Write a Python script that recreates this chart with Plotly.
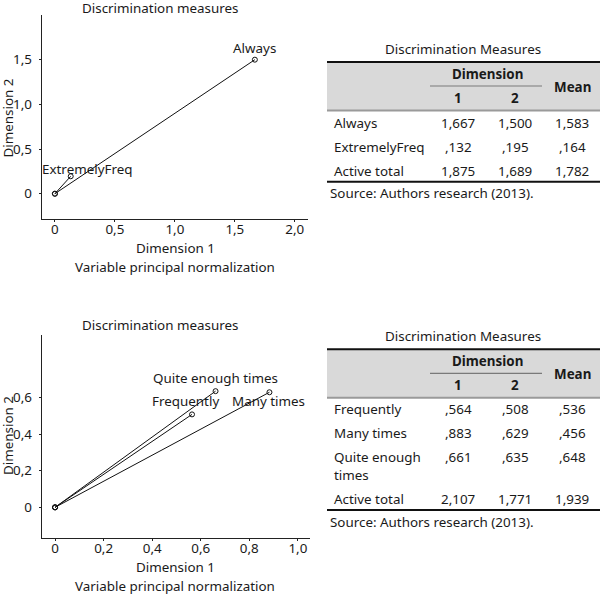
import plotly.graph_objects as go

# ---------------- data ----------------
top_cats = ["Always", "ExtremelyFreq"]
top_dim1 = [1.667, 0.132]
top_dim2 = [1.500, 0.195]
top_mean = [1.583, 0.164]
top_total = [1.875, 1.689, 1.782]

bot_cats = ["Frequently", "Many times", "Quite enough times"]
bot_dim1 = [0.564, 0.883, 0.661]
bot_dim2 = [0.508, 0.629, 0.635]
bot_mean = [0.536, 0.456, 0.648]
bot_total = [2.107, 1.771, 1.939]

top_xticks = [0, 0.5, 1.0, 1.5, 2.0]
top_xtext = ["0", "0,5", "1,0", "1,5", "2,0"]
top_yticks = [0, 0.5, 1.0, 1.5]
top_ytext = ["0", "0,5", "1,0", "1,5"]
bot_xticks = [0, 0.2, 0.4, 0.6, 0.8, 1.0]
bot_xtext = ["0", "0,2", "0,4", "0,6", "0,8", "1,0"]
bot_yticks = [0, 0.2, 0.4, 0.6]
bot_ytext = ["0", "0,2", "0,4", "0,6"]

chart_title = "Discrimination measures"
table_title = "Discrimination Measures"
x_title = "Dimension 1"
y_title = "Dimension 2"
subtitle = "Variable principal normalization"
source = "Source: Authors research (2013)."

# ---------------- style ----------------
W, H = 600, 595
FONT = "Noto Sans"
FS = 13.4
TXT = "#1a1a1a"

def px(x):
    return x / W

def py(y):
    return 1 - y / H

def fmt(v):
    s = f"{v:.3f}".replace(".", ",")
    if s.startswith("0,"):
        s = s[1:]
    return s

fig = go.Figure()

# label offsets (pixels) per point
top_shift = {"Always": (0, 12), "ExtremelyFreq": (17, 7)}
bot_shift = {"Frequently": (-7, 13), "Many times": (-1, -9), "Quite enough times": (0, 13)}

def add_vectors(cats, d1, d2, xa, ya, shifts):
    for c, a, b in zip(cats, d1, d2):
        fig.add_trace(go.Scatter(
            x=[0, a], y=[0, b], mode="lines+markers", xaxis=xa, yaxis=ya,
            line=dict(color="#111111", width=1),
            marker=dict(symbol="circle-open", size=5, color="#111111", line=dict(width=1)),
            showlegend=False, hoverinfo="skip"))
        sx, sy = shifts[c]
        fig.add_annotation(x=a, y=b, xref=xa, yref=ya, text=c, showarrow=False,
                           xshift=sx, yshift=sy, font=dict(family=FONT, size=FS, color=TXT))

add_vectors(top_cats, top_dim1, top_dim2, "x", "y", top_shift)
add_vectors(bot_cats, bot_dim1, bot_dim2, "x2", "y2", bot_shift)

axis_common = dict(showline=True, linecolor="#222222", linewidth=1, showgrid=False,
                   zeroline=False, ticks="outside", ticklen=2, tickcolor="#222222",
                   tickfont=dict(family=FONT, size=FS, color=TXT))
xa_extra = dict(ticklabelstandoff=-4)
ya_extra = dict(ticklabelstandoff=4)

fig.update_layout(
    width=W, height=H, margin=dict(l=0, r=0, t=0, b=0),
    paper_bgcolor="white", plot_bgcolor="white",
    font=dict(family=FONT, size=FS, color=TXT),
    xaxis=dict(domain=[px(41.7), px(308)], range=[-0.11, 2.11], anchor="y",
               tickvals=top_xticks, ticktext=top_xtext, **axis_common, **xa_extra),
    yaxis=dict(domain=[py(219), py(15)], range=[-0.283, 2.0], anchor="x",
               tickvals=top_yticks, ticktext=top_ytext, **axis_common, **ya_extra),
    xaxis2=dict(domain=[px(41.7), px(310)], range=[-0.055, 1.05], anchor="y2",
                tickvals=bot_xticks, ticktext=bot_xtext, **axis_common, **xa_extra),
    yaxis2=dict(domain=[py(537.7), py(335)], range=[-0.166, 0.942], anchor="x2",
                tickvals=bot_yticks, ticktext=bot_ytext, **axis_common, **ya_extra),
)

def text(x, y, s, xanchor="center", bold=False, size=FS):
    fig.add_annotation(x=px(x), y=py(y), xref="paper", yref="paper", text=(f"<b>{s}</b>" if bold else s),
                       showarrow=False, xanchor=xanchor, yanchor="middle",
                       font=dict(family=FONT, size=size, color=TXT))

def hline(x0, x1, y, color, width):
    fig.add_shape(type="line", xref="paper", yref="paper", x0=px(x0), x1=px(x1),
                  y0=py(y), y1=py(y), line=dict(color=color, width=width))

# chart titles
for (tx, ty_title, ty_x, ty_sub, ty_y) in [
        (160, 8, 248, 267, 118.5), (160, 325, 567, 586, 436)]:
    text(tx, ty_title, chart_title)
    text(tx + 15, ty_x, x_title)
    text(tx + 15, ty_sub, subtitle)
    fig.add_annotation(x=px(8), y=py(ty_y), xref="paper", yref="paper",
                       text=y_title, textangle=-90, showarrow=False,
                       xanchor="center", yanchor="middle",
                       font=dict(family=FONT, size=FS, color=TXT))

# tables
col_x = [458, 515, 572]

def table(top, rows, total, row_ys, total_y, bottom):
    L, R = 327, 600
    text(463, top - 13, table_title)
    fig.add_shape(type="rect", xref="paper", yref="paper", x0=px(L), x1=px(R),
                  y0=py(top + 48.5), y1=py(top), fillcolor="#d9d9d9", line=dict(width=0), layer="below")
    hline(L, R, top, "#111111", 2)
    hline(L, R, top + 48.5, "#9a9a9a", 2)
    hline(430, 542, top + 24, "#7a7a7a", 1.2)
    text(487, top + 12, "Dimension", bold=True)
    text(col_x[0], top + 36, "1", bold=True)
    text(col_x[1], top + 36, "2", bold=True)
    text(col_x[2], top + 24.5, "Mean", bold=True)
    for (lab, a, b, m), y in zip(rows, row_ys):
        if isinstance(lab, list):
            text(332, y, lab[0], xanchor="left")
            text(332, y + 18.5, lab[1], xanchor="left")
        else:
            text(332, y, lab, xanchor="left")
        for cx, v in zip(col_x, (a, b, m)):
            text(cx, y, fmt(v))
    text(332, total_y, "Active total", xanchor="left")
    for cx, v in zip(col_x, total):
        text(cx, total_y, fmt(v))
    hline(L, R, bottom, "#111111", 2)
    text(328, bottom + 11.5, source, xanchor="left")

top_rows = list(zip(top_cats, top_dim1, top_dim2, top_mean))
table(62, top_rows, top_total, [123, 147], 170.5, 181.7)

bot_labels = ["Frequently", "Many times", ["Quite enough", "times"]]
bot_rows = list(zip(bot_labels, bot_dim1, bot_dim2, bot_mean))
table(349.3, bot_rows, bot_total, [409, 433, 456.7], 499, 510)

fig.write_html("out.html", config={"displayModeBar": False},
               post_script="document.body.style.margin='0';document.body.style.overflow='hidden';")
